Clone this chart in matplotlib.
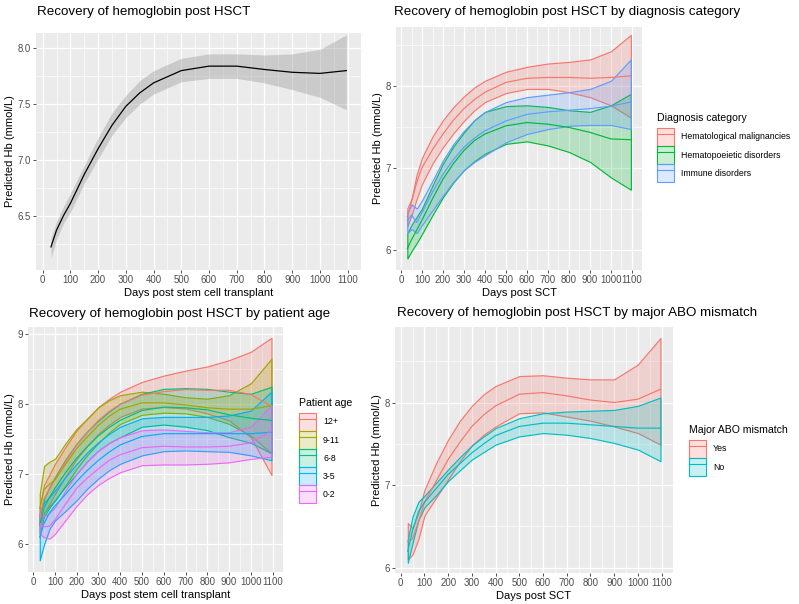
import matplotlib
matplotlib.use("Agg")
import matplotlib.pyplot as plt
from matplotlib.patches import Patch
from matplotlib.lines import Line2D
from matplotlib.colors import to_rgba

plt.rcParams["font.family"] = ["Liberation Sans", "DejaVu Sans"]

W, H = 799, 604

# common x grid (days post transplant)
DAYS = [30, 50, 75, 100, 150, 200, 250, 300, 350, 400, 500, 600, 700, 800, 900, 1000, 1095]

# panel 1: overall
all_fit = [6.22, 6.37, 6.50, 6.61, 6.87, 7.10, 7.31, 7.48, 7.60, 7.69, 7.80, 7.84, 7.84, 7.81, 7.785, 7.775, 7.80]
all_hi  = [6.30, 6.45, 6.58, 6.70, 6.95, 7.20, 7.42, 7.58, 7.71, 7.80, 7.91, 7.95, 7.95, 7.94, 7.95, 7.99, 8.12]
all_lo  = [6.12, 6.29, 6.43, 6.53, 6.79, 7.01, 7.22, 7.38, 7.50, 7.59, 7.70, 7.73, 7.73, 7.69, 7.63, 7.56, 7.45]

# panel 2: diagnosis category
diag_names = ["Hematological malignancies", "Hematopoeietic disorders", "Immune disorders"]
diag_colors = ["#F8766D", "#00BA38", "#619CFF"]
malig_fit = [6.40, 6.58, 6.82, 7.00, 7.22, 7.41, 7.58, 7.72, 7.83, 7.92, 8.04, 8.09, 8.10, 8.10, 8.09, 8.10, 8.12]
malig_hi  = [6.50, 6.62, 6.92, 7.12, 7.38, 7.58, 7.74, 7.87, 7.98, 8.06, 8.17, 8.23, 8.27, 8.29, 8.32, 8.42, 8.62]
malig_lo  = [6.28, 6.42, 6.62, 6.80, 7.05, 7.25, 7.42, 7.57, 7.70, 7.80, 7.91, 7.96, 7.96, 7.92, 7.86, 7.76, 7.61]
hemat_fit = [6.01, 6.12, 6.24, 6.36, 6.62, 6.86, 7.05, 7.21, 7.33, 7.41, 7.51, 7.55, 7.53, 7.49, 7.43, 7.35, 7.34]
hemat_hi  = [6.20, 6.30, 6.40, 6.50, 6.78, 7.05, 7.26, 7.43, 7.58, 7.68, 7.75, 7.76, 7.74, 7.70, 7.68, 7.76, 7.90]
hemat_lo  = [5.89, 5.98, 6.08, 6.19, 6.42, 6.64, 6.82, 6.97, 7.08, 7.17, 7.29, 7.32, 7.27, 7.19, 7.07, 6.88, 6.73]
immun_fit = [6.35, 6.42, 6.33, 6.45, 6.70, 6.92, 7.10, 7.25, 7.36, 7.45, 7.57, 7.65, 7.68, 7.70, 7.72, 7.75, 7.80]
immun_hi  = [6.45, 6.55, 6.50, 6.60, 6.84, 7.09, 7.29, 7.45, 7.58, 7.68, 7.80, 7.86, 7.89, 7.92, 7.96, 8.06, 8.32]
immun_lo  = [6.20, 6.25, 6.20, 6.30, 6.48, 6.66, 6.83, 6.97, 7.07, 7.15, 7.31, 7.41, 7.47, 7.51, 7.52, 7.52, 7.47]

# panel 3: patient age
age_names = ["12+", "9-11", "6-8", "3-5", "0-2"]
age_colors = ["#F8766D", "#A3A500", "#00BF7D", "#00B0F6", "#E76BF3"]
a12_fit = [6.40, 6.65, 6.79, 6.93, 7.19, 7.42, 7.60, 7.77, 7.90, 8.00, 8.13, 8.18, 8.21, 8.20, 8.20, 8.14, 7.97]
a12_hi  = [6.55, 6.85, 7.00, 7.15, 7.40, 7.63, 7.80, 7.96, 8.08, 8.18, 8.32, 8.41, 8.48, 8.54, 8.63, 8.75, 8.95]
a12_lo  = [6.25, 6.45, 6.58, 6.72, 6.98, 7.22, 7.41, 7.58, 7.71, 7.82, 7.94, 7.96, 7.94, 7.87, 7.77, 7.53, 6.99]
a9_fit  = [6.51, 6.78, 6.86, 6.92, 7.15, 7.37, 7.54, 7.70, 7.83, 7.93, 8.02, 8.02, 7.99, 7.95, 7.93, 7.93, 7.98]
a9_hi   = [6.72, 7.12, 7.18, 7.22, 7.45, 7.65, 7.80, 7.96, 8.06, 8.13, 8.18, 8.15, 8.10, 8.08, 8.13, 8.30, 8.65]
a9_lo   = [6.30, 6.45, 6.55, 6.62, 6.85, 7.08, 7.28, 7.45, 7.60, 7.72, 7.85, 7.88, 7.87, 7.82, 7.72, 7.55, 7.30]
a6_fit  = [6.28, 6.52, 6.67, 6.80, 7.03, 7.23, 7.40, 7.55, 7.67, 7.77, 7.91, 7.96, 7.95, 7.92, 7.85, 7.80, 7.77]
a6_hi   = [6.40, 6.65, 6.82, 6.96, 7.22, 7.44, 7.62, 7.77, 7.90, 8.01, 8.15, 8.22, 8.23, 8.22, 8.18, 8.15, 8.25]
a6_lo   = [6.15, 6.40, 6.52, 6.63, 6.83, 7.01, 7.19, 7.34, 7.45, 7.53, 7.68, 7.71, 7.68, 7.63, 7.53, 7.45, 7.30]
a3_fit  = [6.10, 6.30, 6.45, 6.55, 6.72, 6.90, 7.06, 7.20, 7.32, 7.42, 7.54, 7.58, 7.58, 7.58, 7.58, 7.58, 7.60]
a3_hi   = [6.45, 6.60, 6.68, 6.77, 6.97, 7.15, 7.32, 7.46, 7.58, 7.68, 7.80, 7.82, 7.82, 7.82, 7.84, 7.91, 8.18]
a3_lo   = [5.77, 6.00, 6.22, 6.34, 6.48, 6.63, 6.80, 6.94, 7.06, 7.15, 7.27, 7.33, 7.34, 7.33, 7.32, 7.27, 7.20]
a0_fit  = [6.30, 6.25, 6.26, 6.35, 6.58, 6.80, 6.95, 7.08, 7.20, 7.28, 7.38, 7.40, 7.39, 7.39, 7.40, 7.45, 7.62]
a0_hi   = [6.45, 6.40, 6.45, 6.53, 6.78, 7.01, 7.19, 7.34, 7.45, 7.53, 7.63, 7.64, 7.62, 7.60, 7.60, 7.68, 7.99]
a0_lo   = [6.15, 6.10, 6.08, 6.15, 6.35, 6.55, 6.72, 6.85, 6.95, 7.03, 7.13, 7.14, 7.14, 7.15, 7.17, 7.22, 7.25]

# panel 4: major ABO mismatch
abo_names = ["Yes", "No"]
abo_colors = ["#F8766D", "#00BFC4"]
yes_fit = [6.32, 6.35, 6.55, 6.79, 7.05, 7.31, 7.52, 7.71, 7.85, 7.96, 8.10, 8.12, 8.08, 8.03, 8.00, 8.04, 8.16]
yes_hi  = [6.54, 6.48, 6.67, 6.94, 7.27, 7.55, 7.78, 7.96, 8.10, 8.20, 8.32, 8.33, 8.30, 8.28, 8.28, 8.46, 8.78]
yes_lo  = [6.10, 6.16, 6.35, 6.63, 6.85, 7.07, 7.29, 7.48, 7.61, 7.71, 7.87, 7.88, 7.83, 7.78, 7.71, 7.63, 7.49]
no_fit  = [6.20, 6.45, 6.68, 6.79, 6.96, 7.13, 7.26, 7.39, 7.50, 7.60, 7.71, 7.75, 7.75, 7.73, 7.71, 7.69, 7.69]
no_hi   = [6.34, 6.62, 6.80, 6.87, 7.03, 7.19, 7.34, 7.48, 7.59, 7.69, 7.81, 7.87, 7.89, 7.90, 7.91, 7.96, 8.06]
no_lo   = [6.06, 6.30, 6.58, 6.73, 6.88, 7.05, 7.18, 7.31, 7.40, 7.49, 7.59, 7.63, 7.61, 7.57, 7.51, 7.43, 7.29]

XTICKS = list(range(0, 1101, 100))
XMINOR = list(range(50, 1101, 100))


def add_ax(fig, l, t, r, b):
    return fig.add_axes([l / W, 1 - b / H, (r - l) / W, (b - t) / H])


def style(ax, ylim, yticks, yminor, ylabels, title, xlabel, title_x, title_y):
    ax.set_facecolor("#EBEBEB")
    ax.set_xlim(-24, 1148)
    ax.set_ylim(*ylim)
    ax.set_xticks(XTICKS)
    ax.set_xticks(XMINOR, minor=True)
    ax.set_yticks(yticks)
    ax.set_yticklabels(ylabels)
    ax.set_yticks(yminor, minor=True)
    ax.grid(which="major", color="white", linewidth=0.9)
    ax.grid(which="minor", color="white", linewidth=0.45)
    ax.set_axisbelow(True)
    for s in ax.spines.values():
        s.set_visible(False)
    ax.tick_params(which="major", length=2.2, width=0.6, color="#333333",
                   labelsize=6.9, labelcolor="#4D4D4D", pad=1.5)
    ax.tick_params(which="minor", length=0)
    ax.set_xlabel(xlabel, fontsize=8.0, color="black", labelpad=2)
    ax.set_ylabel("Predicted Hb (mmol/L)", fontsize=8.0, labelpad=2)
    ax.figure.text(title_x / W, 1 - title_y / H, title, fontsize=9.6, ha="left", va="center")


def ribbons(ax, groups, colors):
    for (lo, fit, hi), c in zip(groups, colors):
        ax.fill_between(DAYS, lo, hi, facecolor=to_rgba(c, 0.22), edgecolor=c, linewidth=0.85)
        ax.plot(DAYS, fit, color=c, linewidth=0.85)


def add_legend(ax, names, colors, title, x, y):
    handles = [(Patch(facecolor=to_rgba(c, 0.22), edgecolor=c, linewidth=0.8),
                Line2D([], [], color=c, linewidth=0.8)) for c in colors]
    leg = ax.legend(handles, names, title=title, loc="upper left",
                    bbox_to_anchor=(x / W, 1 - y / H), bbox_transform=ax.figure.transFigure,
                    frameon=False, fontsize=6.3, title_fontsize=7.6,
                    handlelength=1.95, handleheight=2.8, labelspacing=0.0,
                    handletextpad=0.8, borderpad=0, borderaxespad=0)
    leg._legend_box.align = "left"
    leg._legend_box.sep = 3.5


fig = plt.figure(figsize=(W / 100, H / 100), dpi=100)
fig.patch.set_facecolor("white")

# panel 1
ax1 = add_ax(fig, 36, 33, 361, 270)
ax1.fill_between(DAYS, all_lo, all_hi, color="#999999", alpha=0.4, linewidth=0)
ax1.plot(DAYS, all_fit, color="black", linewidth=0.9)
style(ax1, (6.013, 8.137), [6.5, 7.0, 7.5, 8.0], [6.25, 6.75, 7.25, 7.75],
      ["6.5", "7.0", "7.5", "8.0"], "Recovery of hemoglobin post HSCT",
      "Days post stem cell transplant", 37, 12)

# panel 2
ax2 = add_ax(fig, 396, 27, 642, 270)
ribbons(ax2, [(malig_lo, malig_fit, malig_hi), (hemat_lo, hemat_fit, hemat_hi),
              (immun_lo, immun_fit, immun_hi)], diag_colors)
style(ax2, (5.75, 8.716), [6, 7, 8], [6.5, 7.5, 8.5], ["6", "7", "8"],
      "Recovery of hemoglobin post HSCT by diagnosis category", "Days post SCT", 394, 12)
add_legend(ax2, diag_names, diag_colors, "Diagnosis category", 657, 113)

# panel 3
ax3 = add_ax(fig, 28, 327, 283, 572)
ribbons(ax3, [(a12_lo, a12_fit, a12_hi), (a9_lo, a9_fit, a9_hi), (a6_lo, a6_fit, a6_hi),
              (a3_lo, a3_fit, a3_hi), (a0_lo, a0_fit, a0_hi)], age_colors)
style(ax3, (5.604, 9.104), [6, 7, 8, 9], [6.5, 7.5, 8.5], ["6", "7", "8", "9"],
      "Recovery of hemoglobin post HSCT by patient age", "Days post stem cell transplant", 29, 314)
add_legend(ax3, age_names, age_colors, "Patient age", 299, 398)

# panel 4
ax4 = add_ax(fig, 395, 327, 673, 573)
ribbons(ax4, [(yes_lo, yes_fit, yes_hi), (no_lo, no_fit, no_hi)], abo_colors)
style(ax4, (5.936, 8.914), [6, 7, 8], [6.5, 7.5, 8.5], ["6", "7", "8"],
      "Recovery of hemoglobin post HSCT by major ABO mismatch", "Days post SCT", 397, 313)
add_legend(ax4, abo_names, abo_colors, "Major ABO mismatch", 689, 425)

fig.savefig("out.png", dpi=100)
